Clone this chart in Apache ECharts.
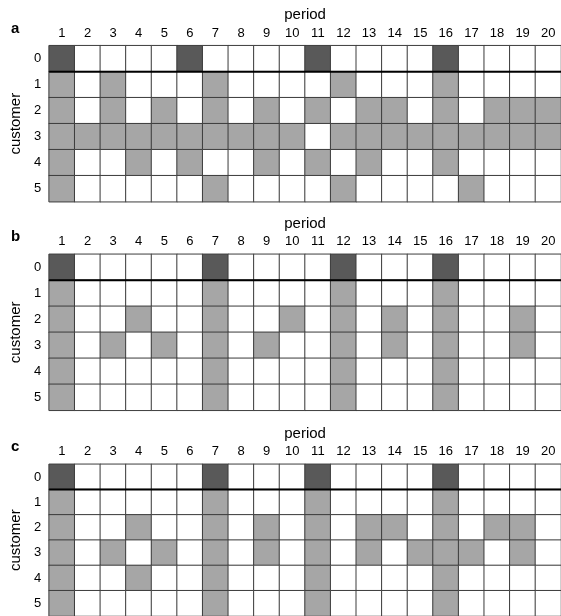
<!DOCTYPE html>
<html>
<head>
<meta charset="utf-8">
<script src="https://cdn.jsdelivr.net/npm/echarts@6/dist/echarts.min.js"></script>
<style>
  html, body { margin: 0; padding: 0; background: #ffffff; }
  #chart { width: 561px; height: 616px; }
</style>
</head>
<body>
<div id="chart"></div>
<script>
// ---- data ----
const periods = ['1','2','3','4','5','6','7','8','9','10','11','12','13','14','15','16','17','18','19','20'];
const customers = ['0','1','2','3','4','5'];
const panelLetters = ['a', 'b', 'c'];

// Panel a: depot visits (row 0) and deliveries per customer (rows 1-5)
const aDepot = [1, 6, 11, 16];
const aCust1 = [1, 3, 7, 12, 16];
const aCust2 = [1, 3, 5, 7, 9, 11, 13, 14, 16, 18, 19, 20];
const aCust3 = [1, 2, 3, 4, 5, 6, 7, 8, 9, 10, 12, 13, 14, 15, 16, 17, 18, 19, 20];
const aCust4 = [1, 4, 6, 9, 11, 13, 16];
const aCust5 = [1, 7, 12, 17];

// Panel b
const bDepot = [1, 7, 12, 16];
const bCust1 = [1, 7, 12, 16];
const bCust2 = [1, 4, 7, 10, 12, 14, 16, 19];
const bCust3 = [1, 3, 5, 7, 9, 12, 14, 16, 19];
const bCust4 = [1, 7, 12, 16];
const bCust5 = [1, 7, 12, 16];

// Panel c
const cDepot = [1, 7, 11, 16];
const cCust1 = [1, 7, 11, 16];
const cCust2 = [1, 4, 7, 9, 11, 13, 14, 16, 18, 19];
const cCust3 = [1, 3, 5, 7, 9, 11, 13, 15, 16, 17, 19];
const cCust4 = [1, 4, 7, 11, 16];
const cCust5 = [1, 7, 11, 16];

// boundary between depot row and customer rows (in row units)
const depotBoundary = 1;

const panels = [
  [aDepot, aCust1, aCust2, aCust3, aCust4, aCust5],
  [bDepot, bCust1, bCust2, bCust3, bCust4, bCust5],
  [cDepot, cCust1, cCust2, cCust3, cCust4, cCust5]
];

// ---- build chart ----
const FONT = "'Liberation Sans', Arial, sans-serif";
const gridTops = [45.7, 254.3, 464.3];
const gridH = 156;
const letterTops = [21, 229, 439];

function buildCells(rows) {
  const out = [];
  rows.forEach((list, r) => {
    periods.forEach((p, ci) => {
      const has = list.indexOf(ci + 1) >= 0;
      const v = has ? (r === 0 ? 2 : 1) : 0;
      out.push([ci, r, v]);
    });
  });
  return out;
}

const grids = [], xAxes = [], yAxes = [], series = [], titles = [];
panels.forEach((rows, i) => {
  grids.push({ left: 40.7, right: -2.4, top: gridTops[i], height: gridH, containLabel: false });
  // visible category axes
  xAxes.push({
    type: 'category', gridIndex: i, data: periods, position: 'top',
    axisLine: { show: false }, axisTick: { show: false }, splitLine: { show: false },
    axisLabel: { color: '#000', fontSize: 13, fontFamily: FONT, margin: 6, interval: 0 },
    name: 'period', nameLocation: 'middle', nameGap: 23,
    nameTextStyle: { color: '#000', fontSize: 15, fontFamily: FONT }
  });
  yAxes.push({
    type: 'category', gridIndex: i, data: customers, inverse: true,
    axisLine: { show: false }, axisTick: { show: false }, splitLine: { show: false },
    axisLabel: { color: '#000', fontSize: 13, fontFamily: FONT, margin: 8 },
    name: 'customer', nameLocation: 'middle', nameGap: 21,
    nameTextStyle: { color: '#000', fontSize: 15, fontFamily: FONT }
  });
  // hidden value axes for the depot separator line
  xAxes.push({ type: 'value', gridIndex: i, min: 0, max: 1, show: false });
  yAxes.push({ type: 'value', gridIndex: i, min: 0, max: customers.length, inverse: true, show: false });

  series.push({
    type: 'heatmap', xAxisIndex: 2 * i, yAxisIndex: 2 * i,
    data: buildCells(rows),
    itemStyle: { borderColor: '#3c3c3c', borderWidth: 1 },
    emphasis: { disabled: true }, silent: true
  });
  series.push({
    type: 'line', xAxisIndex: 2 * i + 1, yAxisIndex: 2 * i + 1,
    data: [[0, depotBoundary], [1, depotBoundary]],
    symbol: 'none', silent: true, z: 10,
    lineStyle: { color: '#000', width: 2 }
  });
  titles.push({
    text: panelLetters[i], left: 11, top: letterTops[i], padding: 0,
    textStyle: { fontSize: 15, fontWeight: 'bold', color: '#000', fontFamily: FONT }
  });
});

const chart = echarts.init(document.getElementById('chart'), null, { renderer: 'canvas' });
chart.setOption({
  animation: false,
  backgroundColor: '#ffffff',
  title: titles,
  grid: grids,
  xAxis: xAxes,
  yAxis: yAxes,
  visualMap: {
    type: 'piecewise', show: false, dimension: 2,
    seriesIndex: [0, 2, 4],
    pieces: [
      { value: 0, color: '#ffffff' },
      { value: 1, color: '#a6a6a6' },
      { value: 2, color: '#595959' }
    ]
  },
  series: series
});
</script>
</body>
</html>
